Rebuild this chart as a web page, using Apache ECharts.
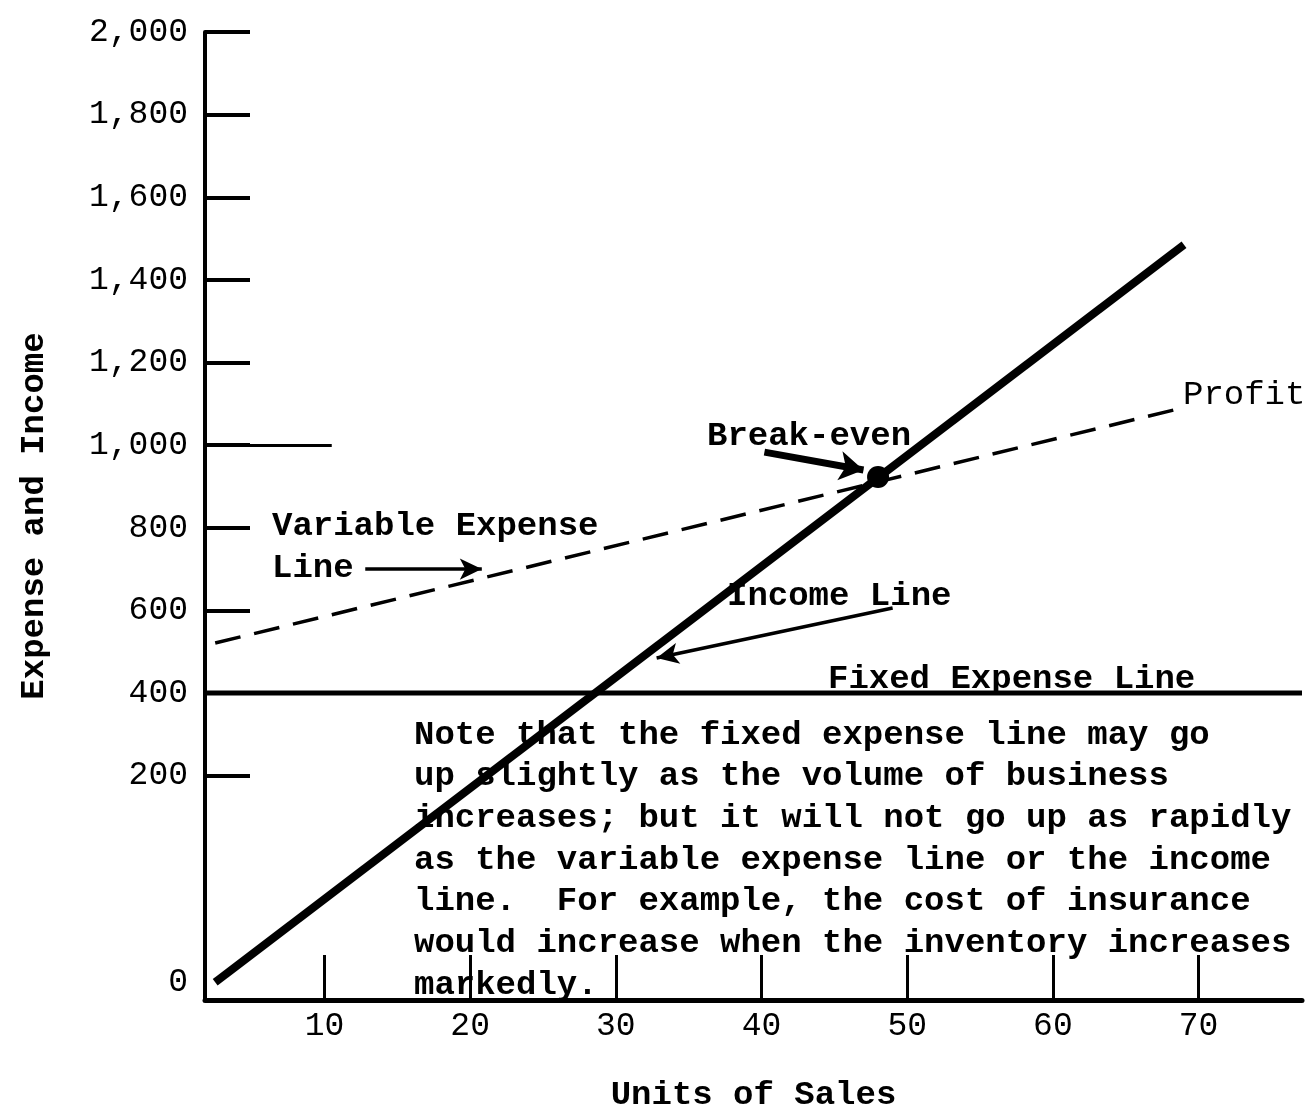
<!DOCTYPE html>
<html>
<head>
<meta charset="utf-8">
<script src="https://cdn.jsdelivr.net/npm/echarts@6/dist/echarts.min.js"></script>
<style>
  html, body { margin: 0; padding: 0; background: #fff; }
  #chart { width: 1306px; height: 1108px; }
</style>
</head>
<body>
<div id="chart"></div>
<script>
// axis ticks and labels (hand drawn chart: the "0" sits below the even 200 spacing)
const xTicks = [10, 20, 30, 40, 50, 60, 70];
const yTicks = [200, 400, 600, 800, 1000, 1200, 1400, 1600, 1800, 2000];
const yLabelValues = [-300, 200, 400, 600, 800, 1000, 1200, 1400, 1600, 1800, 2000];
const yLabelTexts = ['0', '200', '400', '600', '800', '1,000', '1,200', '1,400', '1,600', '1,800', '2,000'];

// series
const incomeX = [2.5, 69];
const incomeY = [-300, 1485];
const variableX = [2.5, 69.1];
const variableY = [521, 1092];
const fixedX = [1.8, 77.1];
const fixedY = [400, 400];
const breakEven = [48, 923];

// pointer arrows [from, to]
const arrowBreakEven = [[40.2, 983], [47, 940]];
const arrowVariable = [[12.8, 700], [20.8, 700]];
const arrowIncome = [[49, 606], [32.8, 485]];
const longTick = [[1.8, 1000], [10.5, 1000]];

const noteLines = [
    'Note that the fixed expense line may go',
    'up slightly as the volume of business',
    'increases; but it will not go up as rapidly',
    'as the variable expense line or the income',
    'line.  For example, the cost of insurance',
    'would increase when the inventory increases',
    'markedly.'
];

const FONT = '"Liberation Mono", "DejaVu Sans Mono", monospace';

function pairs(xs, ys) {
    return xs.map((x, i) => [x, ys[i]]);
}

function arrow(seg) {
    return [{ coord: seg[0] }, { coord: seg[1] }];
}

function txt(text, left, y, bold) {
    return {
        type: 'text',
        left: left,
        top: y - 15,
        style: {
            text: text,
            fill: '#000',
            font: (bold ? 'bold ' : '') + '34px ' + FONT
        }
    };
}

const myEcharts = echarts.init(document.getElementById('chart'));

const graphics = [
    txt('Break-even', 707, 434, true),
    txt('Variable Expense', 272, 524, true),
    txt('Line', 272, 566, true),
    txt('Income Line', 727, 594, true),
    txt('Profit', 1183, 393, false),
    txt('Fixed Expense Line', 828, 677, true)
];
noteLines.forEach((line, i) => {
    graphics.push(txt(line, 414, 733 + i * 41.7, true));
});

const option = {
    backgroundColor: '#fff',
    animation: false,
    grid: {
        left: 205,
        right: 4,
        top: 32,
        bottom: 108,
        containLabel: false,
        outerBoundsMode: 'none'
    },
    xAxis: {
        type: 'value',
        min: 1.8,
        max: 77.1,
        name: 'Units of Sales',
        nameLocation: 'middle',
        nameGap: 78,
        nameTextStyle: { fontFamily: FONT, fontSize: 34, color: '#000', fontWeight: 'bold' },
        axisLine: { show: true, onZero: false, lineStyle: { color: '#000', width: 5 } },
        axisTick: {
            show: true,
            inside: true,
            length: 45,
            customValues: xTicks,
            lineStyle: { color: '#000', width: 3 }
        },
        axisLabel: {
            customValues: xTicks,
            margin: 10,
            fontFamily: FONT,
            fontSize: 33,
            color: '#000'
        },
        splitLine: { show: false }
    },
    yAxis: {
        type: 'value',
        min: -343,
        max: 2000,
        name: 'Expense and Income',
        nameLocation: 'middle',
        nameRotate: 90,
        nameGap: 154,
        nameTextStyle: { fontFamily: FONT, fontSize: 34, color: '#000', fontWeight: 'bold' },
        axisLine: { show: true, onZero: false, lineStyle: { color: '#000', width: 4 } },
        axisTick: {
            show: true,
            inside: true,
            length: 45,
            customValues: yTicks,
            lineStyle: { color: '#000', width: 4 }
        },
        axisLabel: {
            customValues: yLabelValues,
            margin: 17,
            fontFamily: FONT,
            fontSize: 33,
            color: '#000',
            formatter: function (v) {
                const i = yLabelValues.indexOf(v);
                return i >= 0 ? yLabelTexts[i] : '';
            }
        },
        splitLine: { show: false }
    },
    graphic: graphics,
    series: [{
        name: 'Fixed Expense Line',
        type: 'line',
        showSymbol: false,
        lineStyle: { color: '#000', width: 5 },
        data: pairs(fixedX, fixedY)
    }, {
        name: 'Variable Expense Line',
        type: 'line',
        showSymbol: false,
        lineStyle: { color: '#000', width: 3.5, type: [26, 14] },
        data: pairs(variableX, variableY)
    }, {
        name: 'Income Line',
        type: 'line',
        showSymbol: false,
        lineStyle: { color: '#000', width: 8 },
        data: pairs(incomeX, incomeY),
        markLine: {
            silent: true,
            symbol: ['none', 'arrow'],
            symbolSize: [16, 22],
            label: { show: false },
            lineStyle: { color: '#000', width: 3.5, type: 'solid' },
            data: [arrow(arrowVariable), arrow(arrowIncome)]
        }
    }, {
        name: 'Break-even',
        type: 'scatter',
        symbol: 'circle',
        symbolSize: 22,
        itemStyle: { color: '#000', opacity: 1 },
        data: [breakEven],
        markLine: {
            silent: true,
            symbol: ['none', 'arrow'],
            symbolSize: [22, 24],
            label: { show: false },
            lineStyle: { color: '#000', width: 7, type: 'solid' },
            data: [arrow(arrowBreakEven)]
        }
    }, {
        name: 'tick',
        type: 'line',
        data: [],
        markLine: {
            silent: true,
            symbol: 'none',
            label: { show: false },
            lineStyle: { color: '#000', width: 3, type: 'solid' },
            data: [arrow(longTick)]
        }
    }]
};

myEcharts.setOption(option);
</script>
</body>
</html>
